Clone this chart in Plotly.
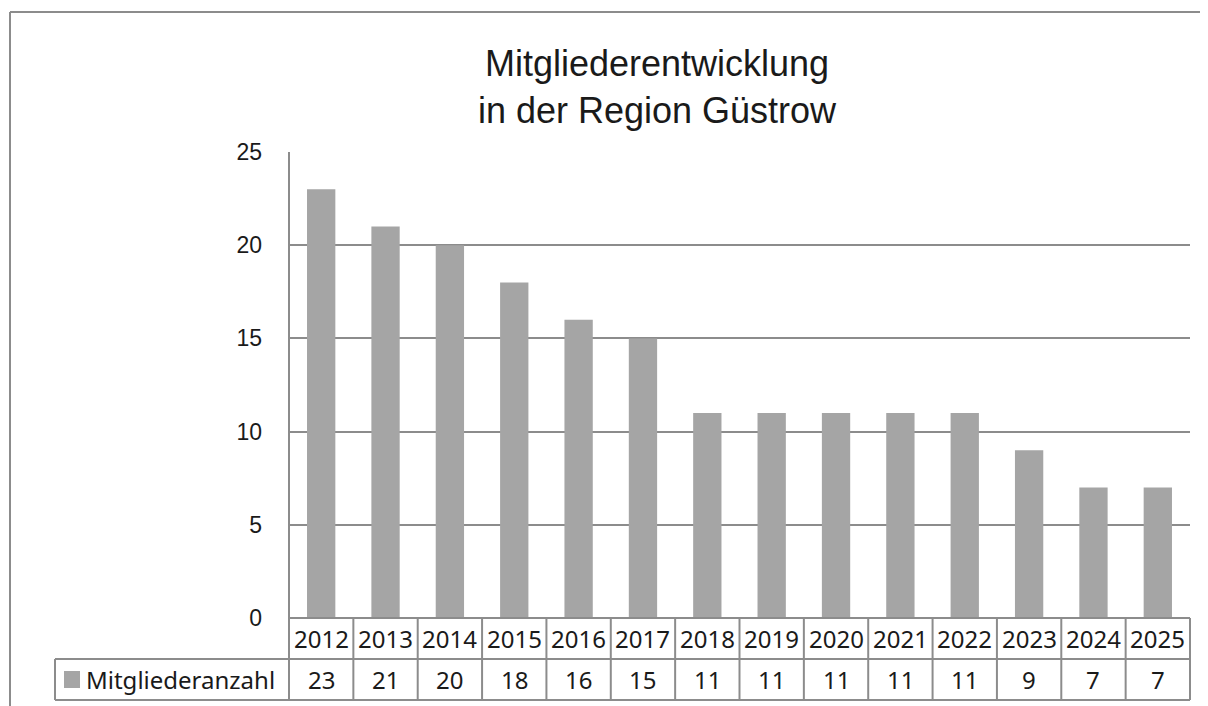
import plotly.graph_objects as go

years = ["2012", "2013", "2014", "2015", "2016", "2017", "2018",
         "2019", "2020", "2021", "2022", "2023", "2024", "2025"]
mitglieder = [23, 21, 20, 18, 16, 15, 11, 11, 11, 11, 11, 9, 7, 7]
series_name = "Mitgliederanzahl"
title_text = "Mitgliederentwicklung<br>in der Region Güstrow"

# page has an 8px body margin, so the figure sits 8px from the window edge
OFF = 8
W, H = 1208, 706 - OFF
L, R, T, B = 289, 1190, 152, 618   # plot area in screen pixels
BAR = "#a5a5a5"
LINE = "#8c8c8c"
TEXT = "#1a1a1a"
TABLE_FONT = "Noto Sans"
TABLE_SIZE = 24


def px_x(p):
    return (p - L) / (R - L)


def px_y(p):
    return (B - p) / (B - T)


def hline(x0, x1, y):
    return dict(type="line", xref="paper", yref="paper",
                x0=px_x(x0), x1=px_x(x1), y0=px_y(y), y1=px_y(y),
                line=dict(color=LINE, width=2))


def vline(x, y0, y1):
    return dict(type="line", xref="paper", yref="paper",
                x0=px_x(x), x1=px_x(x), y0=px_y(y0), y1=px_y(y1),
                line=dict(color=LINE, width=2))


fig = go.Figure()
fig.add_trace(
    go.Bar(
        x=years,
        y=mitglieder,
        name=series_name,
        marker=dict(color=BAR, line=dict(width=0)),
        showlegend=False,
    )
)

row1, row2 = 659, 700
shapes = [
    # outer chart border, cut off at right and bottom
    hline(10, 1300, 12),
    vline(10, 12, 760),
    # table grid
    hline(L, R, B),
    hline(55, R, row1),
    hline(55, R, row2),
    vline(L, T, row2),
    vline(R, B, row2),
    vline(55, row1, row2),
]
# category dividers
for i in range(1, len(years)):
    shapes.append(dict(type="line", xref="x", yref="paper",
                       x0=i - 0.5, x1=i - 0.5, y0=0, y1=px_y(row2),
                       line=dict(color=LINE, width=2)))
# legend key
shapes.append(dict(type="rect", xref="paper", yref="paper",
                   x0=px_x(64), x1=px_x(80), y0=px_y(688), y1=px_y(671),
                   fillcolor=BAR, line=dict(width=0)))

annotations = []
for i, (yr, v) in enumerate(zip(years, mitglieder)):
    annotations.append(dict(x=i, xref="x", xanchor="center",
                            yref="paper", y=px_y((B + row1) / 2), yanchor="middle",
                            text=yr, showarrow=False,
                            font=dict(family=TABLE_FONT, size=TABLE_SIZE, color=TEXT)))
    annotations.append(dict(x=i, xref="x", xanchor="center",
                            yref="paper", y=px_y((row1 + row2) / 2), yanchor="middle",
                            text=str(v), showarrow=False,
                            font=dict(family=TABLE_FONT, size=TABLE_SIZE, color=TEXT)))
annotations.append(dict(x=px_x(84), xref="paper", xanchor="left",
                        yref="paper", y=px_y((row1 + row2) / 2), yanchor="middle",
                        text=series_name, showarrow=False,
                        font=dict(family=TABLE_FONT, size=TABLE_SIZE, color=TEXT)))

fig.update_layout(
    width=W,
    height=H,
    margin=dict(l=L - OFF, r=W - (R - OFF), t=T - OFF, b=H - (B - OFF), pad=0),
    paper_bgcolor="white",
    plot_bgcolor="white",
    title=dict(text=title_text, x=(657 - OFF) / W, xanchor="center", xref="container",
               y=1 - 68 / H, yanchor="top", yref="container",
               font=dict(family="Liberation Sans", size=36, color=TEXT)),
    bargap=0.56,
    shapes=shapes,
    annotations=annotations,
    font=dict(family="Liberation Sans", color=TEXT),
)
fig.update_xaxes(type="category", range=[-0.5, len(years) - 0.5],
                 showticklabels=False, showgrid=False,
                 zeroline=False, showline=False, ticks="")
fig.update_yaxes(range=[0, 25], dtick=5, showgrid=True, gridcolor=LINE,
                 gridwidth=2, zeroline=False, showline=False,
                 ticklabelstandoff=26,
                 tickfont=dict(family="Liberation Sans", size=23, color=TEXT))

fig.write_html("out.html", post_script="document.body.style.overflow='hidden';")
